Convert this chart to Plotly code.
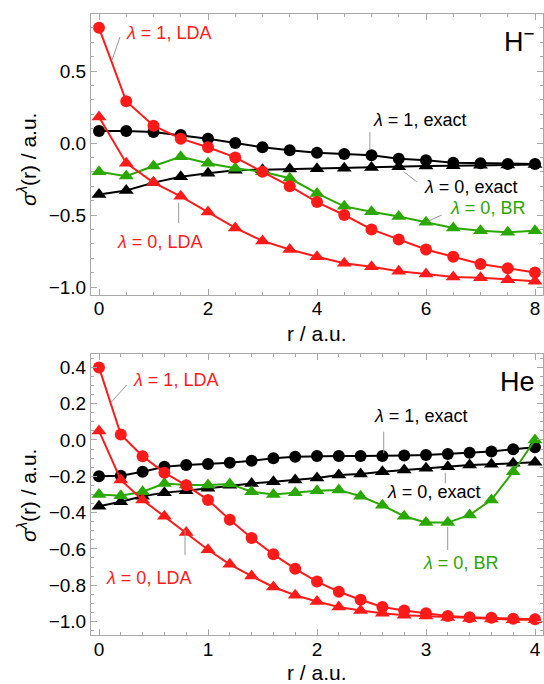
import plotly.graph_objects as go

# Radial grids (a.u.)
r_H = [0.5 * i for i in range(17)]
r_He = [0.2 * i for i in range(21)]

# H- : sigma^lambda(r)
H_lda1 = [0.80, 0.29, 0.12, 0.03, -0.03, -0.10, -0.20, -0.30, -0.41, -0.50, -0.60, -0.67, -0.74, -0.79, -0.84, -0.87, -0.90]
H_exact1 = [0.083, 0.083, 0.076, 0.055, 0.03, 0.0, -0.03, -0.05, -0.067, -0.076, -0.085, -0.11, -0.12, -0.137, -0.14, -0.146, -0.146]
H_exact0 = [-0.357, -0.33, -0.275, -0.234, -0.21, -0.19, -0.185, -0.18, -0.178, -0.175, -0.17, -0.165, -0.16, -0.158, -0.155, -0.152, -0.15]
H_br0 = [-0.20, -0.23, -0.16, -0.095, -0.14, -0.176, -0.20, -0.245, -0.35, -0.44, -0.477, -0.51, -0.55, -0.59, -0.61, -0.62, -0.61]
H_lda0 = [0.18, -0.14, -0.275, -0.37, -0.48, -0.59, -0.68, -0.74, -0.79, -0.835, -0.86, -0.89, -0.91, -0.93, -0.935, -0.95, -0.96]

# He : sigma^lambda(r)
He_lda1 = [0.40, 0.03, -0.09, -0.18, -0.25, -0.33, -0.44, -0.54, -0.63, -0.71, -0.78, -0.836, -0.88, -0.92, -0.94, -0.955, -0.97, -0.977, -0.98, -0.985, -0.988]
He_lda0 = [0.05, -0.22, -0.33, -0.42, -0.51, -0.605, -0.685, -0.75, -0.81, -0.855, -0.89, -0.92, -0.94, -0.955, -0.965, -0.97, -0.978, -0.983, -0.986, -0.99, -0.99]
He_exact1 = [-0.20, -0.197, -0.175, -0.147, -0.138, -0.132, -0.125, -0.114, -0.10, -0.092, -0.088, -0.088, -0.088, -0.088, -0.086, -0.083, -0.077, -0.07, -0.064, -0.051, -0.04]
He_exact0 = [-0.365, -0.34, -0.31, -0.29, -0.28, -0.266, -0.25, -0.24, -0.23, -0.22, -0.21, -0.193, -0.187, -0.175, -0.165, -0.156, -0.147, -0.138, -0.134, -0.128, -0.123]
He_br0 = [-0.30, -0.307, -0.285, -0.24, -0.248, -0.248, -0.242, -0.285, -0.30, -0.29, -0.28, -0.275, -0.31, -0.36, -0.42, -0.455, -0.455, -0.413, -0.33, -0.175, 0.0]

RED = "#ff1a1a"
GREEN = "#2aa800"
BLACK = "#000000"
GRAY = "#a8a8a8"
FONT = "Liberation Sans, Arial, sans-serif"

fig = go.Figure()


def add_series(x, y, color, symbol, xa, ya):
    fig.add_trace(go.Scatter(
        x=x, y=y, mode="lines+markers",
        line=dict(color=color, width=2),
        marker=dict(symbol=symbol, size=12 if symbol == "circle" else 13, color=color,
                    line=dict(width=0)),
        xaxis=xa, yaxis=ya, showlegend=False, hoverinfo="skip",
    ))


for xa, ya, r, e0, e1, br, l0, l1 in [
    ("x", "y", r_H, H_exact0, H_exact1, H_br0, H_lda0, H_lda1),
    ("x2", "y2", r_He, He_exact0, He_exact1, He_br0, He_lda0, He_lda1),
]:
    add_series(r, e0, BLACK, "triangle-up", xa, ya)
    add_series(r, e1, BLACK, "circle", xa, ya)
    add_series(r, br, GREEN, "triangle-up", xa, ya)
    add_series(r, l0, RED, "triangle-up", xa, ya)
    add_series(r, l1, RED, "circle", xa, ya)


def axis(rng, dtick, minor, domain, anchor, fmt, standoff=0):
    return dict(
        range=rng, domain=domain, anchor=anchor,
        tick0=0, dtick=dtick, tickformat=fmt,
        ticks="inside", ticklen=6, tickwidth=1, tickcolor=GRAY,
        minor=dict(dtick=minor, tick0=0, ticks="inside", ticklen=3, tickwidth=1, tickcolor=GRAY),
        showline=True, linecolor=GRAY, linewidth=1, mirror="allticks",
        showgrid=False, zeroline=False, ticklabelstandoff=standoff,
        tickfont=dict(family=FONT, size=19, color="black"),
    )


fig.update_layout(
    width=544, height=684,
    margin=dict(l=91, r=1, t=14, b=49),
    paper_bgcolor="white", plot_bgcolor="white",
    xaxis=axis([-0.1468, 8.1468], 2, 0.5, [0, 1], "y", ".0f", -4),
    yaxis=axis([-1.0556, 0.8958], 0.5, 0.1, [0.5475, 1], "x", ".1f"),
    xaxis2=axis([-0.0734, 4.0734], 1, 0.2, [0, 1], "y2", ".0f", -3),
    yaxis2=axis([-1.0744, 0.4738], 0.2, 0.05, [0, 0.4525], "x2", ".1f"),
    font=dict(family=FONT, color="black"),
)

LAB = 18
annotations = []
shapes = []


def label(text, x, y, color, xa, ya, size=LAB, xanchor="center"):
    annotations.append(dict(text=text, x=x, y=y, xref=xa, yref=ya, showarrow=False,
                            xanchor=xanchor, yanchor="middle",
                            font=dict(family=FONT, size=size, color=color)))


def leader(x0, y0, x1, y1, xa, ya):
    shapes.append(dict(type="line", x0=x0, y0=y0, x1=x1, y1=y1, xref=xa, yref=ya,
                       line=dict(color="#999999", width=1)))


# H- panel labels
label("<i>λ</i> = 1, LDA", 1.266, 0.764, RED, "x", "y")
leader(0.385, 0.736, 0.239, 0.576, "x", "y")
label("H<sup>−</sup>", 8.04, 0.715, BLACK, "x", "y", size=27, xanchor="right")
label("<i>λ</i> = 1, exact", 5.88, 0.16, BLACK, "x", "y")
leader(4.97, 0.076, 4.97, -0.049, "x", "y")
label("<i>λ</i> = 0, exact", 6.82, -0.306, BLACK, "x", "y")
leader(5.83, -0.269, 5.59, -0.199, "x", "y")
label("<i>λ</i> = 0, BR", 7.12, -0.451, GREEN, "x", "y")
leader(6.29, -0.50, 6.02, -0.547, "x", "y")
label("<i>λ</i> = 0, LDA", 1.11, -0.685, RED, "x", "y")
leader(1.462, -0.417, 1.462, -0.556, "x", "y")

# He panel labels
label("<i>λ</i> = 1, LDA", 0.706, 0.331, RED, "x2", "y2")
leader(0.254, 0.303, 0.1165, 0.211, "x2", "y2")
label("He", 4.018, 0.321, BLACK, "x2", "y2", size=27, xanchor="right")
label("<i>λ</i> = 1, exact", 2.949, 0.132, BLACK, "x2", "y2")
leader(2.612, 0.0457, 2.612, -0.073, "x2", "y2")
label("<i>λ</i> = 0, exact", 3.069, -0.285, BLACK, "x2", "y2")
leader(3.177, -0.18, 3.177, -0.239, "x2", "y2")
label("<i>λ</i> = 0, BR", 3.321, -0.679, GREEN, "x2", "y2")
leader(3.199, -0.478, 3.199, -0.606, "x2", "y2")
label("<i>λ</i> = 0, LDA", 0.454, -0.762, RED, "x2", "y2")
leader(0.789, -0.496, 0.789, -0.634, "x2", "y2")

# Axis titles
ytitle = "<i>σ</i><sup><i>λ</i></sup>(r) / a.u."
for yc in (0.7665, 0.2254):
    annotations.append(dict(text=ytitle, x=-0.1416, y=yc, xref="paper", yref="paper",
                            showarrow=False, textangle=-90, xanchor="center", yanchor="middle",
                            font=dict(family=FONT, size=21, color="black")))
for yc in (0.4863, -0.0596):
    annotations.append(dict(text="r / a.u.", x=0.5, y=yc, xref="paper", yref="paper",
                            showarrow=False, xanchor="center", yanchor="middle",
                            font=dict(family=FONT, size=21, color="black")))

fig.update_layout(annotations=annotations, shapes=shapes)
fig.write_html("out.html")
